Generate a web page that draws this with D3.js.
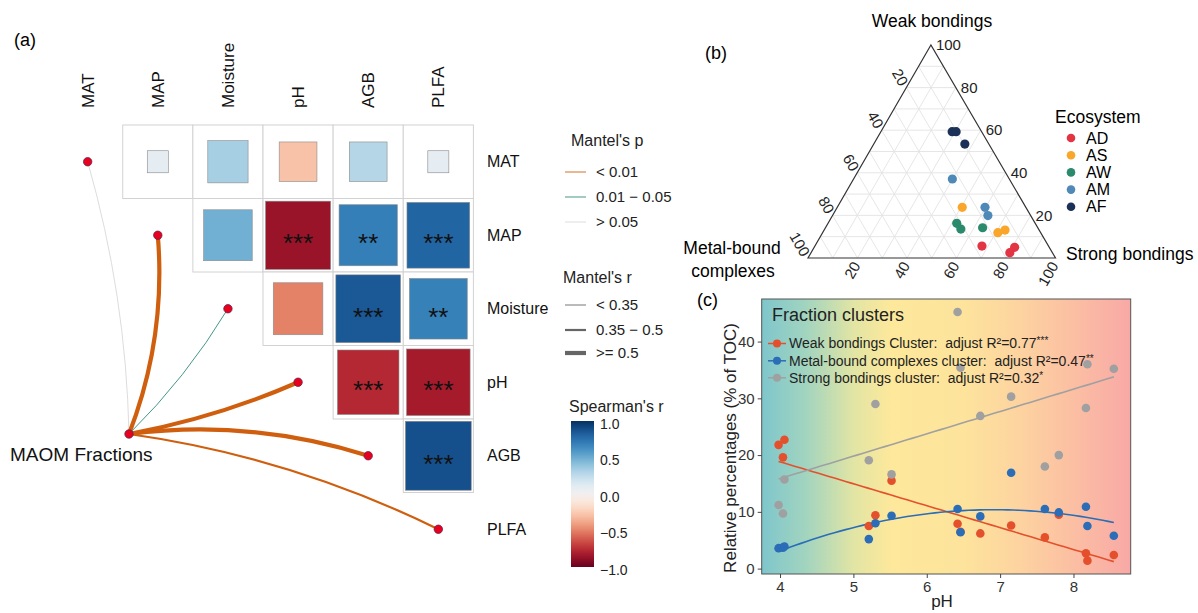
<!DOCTYPE html>
<html>
<head>
<meta charset="utf-8">
<script src="https://cdn.jsdelivr.net/npm/d3@7"></script>
<style>
  body { margin: 0; background: #fff; }
  svg { font-family: "Liberation Sans", Arial, sans-serif; }
</style>
</head>
<body>
<svg id="chart" width="1198" height="613"></svg>
<script>
// ---------- data: (a) correlation / mantel ----------
const corrVars = ['MAT', 'MAP', 'Moisture', 'pH', 'AGB', 'PLFA'];
const spearmanR = [
  [null, 0.09, 0.33, -0.29, 0.29, 0.09],
  [null, null, 0.48, -0.86, 0.69, 0.80],
  [null, null, null, -0.50, 0.85, 0.68],
  [null, null, null, null, -0.77, -0.82],
  [null, null, null, null, null, 0.88],
  [null, null, null, null, null, null]
];
const spearmanSig = [
  ['', '', '', '', '', ''],
  ['', '', '', '***', '**', '***'],
  ['', '', '', '', '***', '**'],
  ['', '', '', '', '***', '***'],
  ['', '', '', '', '', '***'],
  ['', '', '', '', '', '']
];
const mantelR = [0.15, 0.62, 0.24, 0.58, 0.60, 0.42];
const mantelP = [0.32, 0.001, 0.03, 0.001, 0.001, 0.004];
const mantelPLabels = ['< 0.01', '0.01 \u2212 0.05', '> 0.05'];
const mantelRLabels = ['< 0.35', '0.35 \u2212 0.5', '>= 0.5'];
const spearmanTicks = [1.0, 0.5, 0.0, -0.5, -1.0];

// ---------- data: (b) ternary ----------
const ecoNames = ['AD', 'AS', 'AW', 'AM', 'AF'];
const ternEco = ['AD', 'AD', 'AD', 'AS', 'AS', 'AS', 'AW', 'AW', 'AW', 'AM', 'AM', 'AM', 'AF', 'AF', 'AF'];
const ternWeak = [5.6, 5.0, 2.5, 23.8, 11.9, 13.1, 16.3, 13.6, 14.2, 37.1, 23.8, 19.9, 59.3, 59.3, 53.5];
const ternMetal = [26.9, 14.0, 17.2, 25.7, 17.3, 13.8, 31.7, 31.4, 22.3, 23.0, 16.5, 17.3, 11.9, 10.3, 9.7];
const ternStrong = [67.5, 81.0, 80.3, 50.5, 70.8, 73.1, 52.0, 55.0, 63.5, 39.9, 59.7, 62.8, 28.8, 30.4, 36.8];
const ternTicks = [20, 40, 60, 80, 100];

// ---------- data: (c) fraction clusters vs pH ----------
const phVals = [3.98, 4.04, 4.06, 5.21, 5.30, 5.52, 6.42, 6.46, 6.73, 7.15, 7.61, 7.80, 8.17, 8.19, 8.55];
const weakPct = [21.8, 19.6, 22.7, 7.5, 9.4, 15.5, 7.9, 6.5, 6.2, 7.6, 5.5, 9.5, 2.7, 1.4, 2.4];
const metalPct = [3.6, 3.7, 3.9, 5.2, 8.0, 9.3, 10.5, 6.4, 9.2, 16.9, 10.5, 9.9, 10.9, 7.5, 5.8];
const strongPct = [11.2, 9.7, 15.7, 19.1, 29.0, 16.6, 45.2, 35.4, 26.9, 30.3, 18.0, 20.0, 28.3, 36.0, 35.2];
const clusterNames = ['Weak bondings Cluster:  adjust R\u00b2=0.77', 'Metal-bound complexes cluster:  adjust R\u00b2=0.47', 'Strong bondings cluster:  adjust R\u00b2=0.32'];
const clusterStars = ['***', '**', '*'];
const phTicks = [4, 5, 6, 7, 8];
const pctTicks = [0, 10, 20, 30, 40];

// ---------- styles ----------
const edgeCurv = [0.065, 0.115, 0.063, 0.057, -0.11, -0.08];
const ecoColors = ['#e23442', '#f9a62a', '#2c8a6c', '#4e89b8', '#1c3157'];
const clusterColors = ['#e4502c', '#2b6db6', '#a0a0a0'];

const svg = d3.select('#chart');

// ================= (a) =================
const gA = svg.append('g');
gA.append('text').attr('x', 14).attr('y', 46).attr('font-size', 18).text('(a)');

const xA = d3.scaleBand().domain(corrVars).range([52.6, 473.4]);
const yA = d3.scaleBand().domain(corrVars).range([125, 566]);
const bw = xA.bandwidth(), bh = yA.bandwidth();
const rdbu = d3.scaleSequential(d3.interpolateRdBu).domain([-1, 1]);

const cells = [];
spearmanR.forEach((row, i) => row.forEach((r, j) => {
  if (r !== null) cells.push({ row: corrVars[i], col: corrVars[j], r: r, sig: spearmanSig[i][j] });
}));

gA.selectAll('rect.cell').data(cells).join('rect')
  .attr('class', 'cell')
  .attr('x', d => xA(d.col)).attr('y', d => yA(d.row))
  .attr('width', bw).attr('height', bh)
  .attr('fill', '#fff').attr('stroke', '#d2d2d2');

const sz = d => Math.sqrt(Math.abs(d.r));
gA.selectAll('rect.sq').data(cells).join('rect')
  .attr('class', 'sq')
  .attr('x', d => xA(d.col) + bw * (1 - sz(d)) / 2)
  .attr('y', d => yA(d.row) + bh * (1 - sz(d)) / 2)
  .attr('width', d => bw * sz(d)).attr('height', d => bh * sz(d))
  .attr('fill', d => rdbu(d.r)).attr('stroke', '#8a8a8a').attr('stroke-width', 0.6);

gA.selectAll('text.sig').data(cells.filter(d => d.sig)).join('text')
  .attr('x', d => xA(d.col) + bw / 2).attr('y', d => yA(d.row) + bh / 2 + 17)
  .attr('text-anchor', 'middle').attr('font-size', 26).attr('fill', '#111')
  .text(d => d.sig);

// column labels
gA.selectAll('text.col').data(corrVars).join('text')
  .attr('transform', d => `translate(${xA(d) + bw / 2 + 6},108) rotate(-90)`)
  .attr('font-size', 17).attr('fill', '#111').text(d => d);

// row labels
gA.selectAll('text.rowl').data(corrVars).join('text')
  .attr('x', 487).attr('y', d => yA(d) + bh / 2).attr('dy', '0.35em')
  .attr('font-size', 16).attr('fill', '#111').text(d => d);

// mantel edges
const pColor = d3.scaleThreshold().domain([0.01, 0.05]).range(['#cf5f0e', '#2e8b7c', '#d8d8d8']);
const rWidth = d3.scaleThreshold().domain([0.35, 0.5]).range([0.9, 2.2, 4.2]);
const src = { x: 129, y: 434 };
const nodes = corrVars.map((v, i) => ({
  v: v, x: xA(v) + bw / 2, y: yA(v) + bh / 2, r: mantelR[i], p: mantelP[i], c: edgeCurv[i]
}));
gA.selectAll('path.edge').data(nodes).join('path')
  .attr('d', d => {
    const dx = d.x - src.x, dy = d.y - src.y;
    const cx = (src.x + d.x) / 2 - d.c * dy, cy = (src.y + d.y) / 2 + d.c * dx;
    const p = d3.path();
    p.moveTo(src.x, src.y);
    p.quadraticCurveTo(cx, cy, d.x, d.y);
    return p.toString();
  })
  .attr('fill', 'none').attr('stroke', d => pColor(d.p)).attr('stroke-width', d => rWidth(d.r))
  .attr('stroke-linecap', 'round');

gA.selectAll('circle.node').data(nodes.concat([src])).join('circle')
  .attr('cx', d => d.x).attr('cy', d => d.y).attr('r', 4.2)
  .attr('fill', '#e8001f').attr('stroke', '#6a1f4a').attr('stroke-width', 0.8);

gA.append('text').attr('x', 10).attr('y', 461).attr('font-size', 19).attr('fill', '#111').text('MAOM Fractions');

// legends
const gL = svg.append('g').attr('font-size', 15).attr('fill', '#222');
gL.append('text').attr('x', 571).attr('y', 146).attr('font-size', 16).text("Mantel's p");
const pLegY = [172, 197, 222];
const pLegCol = ['#cf5f0e', '#2e8b7c', '#d8d8d8'];
mantelPLabels.forEach((t, i) => {
  gL.append('line').attr('x1', 565).attr('x2', 586).attr('y1', pLegY[i]).attr('y2', pLegY[i])
    .attr('stroke', pLegCol[i]).attr('stroke-opacity', 0.6).attr('stroke-width', 1.5);
  gL.append('text').attr('x', 596).attr('y', pLegY[i]).attr('dy', '0.35em').text(t);
});
gL.append('text').attr('x', 563).attr('y', 283).attr('font-size', 16).text("Mantel's r");
const rLegY = [305, 330, 353];
const rLegW = [0.9, 2.2, 4.2];
mantelRLabels.forEach((t, i) => {
  gL.append('line').attr('x1', 565).attr('x2', 586).attr('y1', rLegY[i]).attr('y2', rLegY[i])
    .attr('stroke', '#666').attr('stroke-width', rLegW[i]);
  gL.append('text').attr('x', 596).attr('y', rLegY[i]).attr('dy', '0.35em').text(t);
});
gL.append('text').attr('x', 569).attr('y', 412).attr('font-size', 16).text("Spearman's r");
const defs = svg.append('defs');
const cbGrad = defs.append('linearGradient').attr('id', 'cbGrad').attr('x1', 0).attr('x2', 0).attr('y1', 0).attr('y2', 1);
d3.range(0, 1.0001, 0.05).forEach(t => {
  cbGrad.append('stop').attr('offset', t).attr('stop-color', rdbu(1 - 2 * t));
});
const yCb = d3.scaleLinear().domain([1, -1]).range([421, 567]);
gL.append('rect').attr('x', 571).attr('y', yCb(1)).attr('width', 23).attr('height', yCb(-1) - yCb(1))
  .attr('fill', 'url(#cbGrad)');
gL.selectAll('text.cbt').data(spearmanTicks).join('text')
  .attr('x', 600).attr('y', d => yCb(d) + 3).attr('dy', '0.35em').attr('font-size', 14)
  .text(d => d3.format('.1f')(d).replace('-', '\u2212'));

// ================= (b) ternary =================
const gB = svg.append('g');
gB.append('text').attr('x', 705).attr('y', 59).attr('font-size', 18).text('(b)');
const apex = [930.9, 45], bl = [808, 258], br = [1055.5, 258];
const tern = (w, m, s) => {
  const t = w + m + s;
  return [(w * apex[0] + m * bl[0] + s * br[0]) / t, (w * apex[1] + m * bl[1] + s * br[1]) / t];
};
const gridVals = d3.range(10, 100, 10);
const gridSegs = [];
gridVals.forEach(v => {
  gridSegs.push([tern(v, 100 - v, 0), tern(v, 0, 100 - v)]);
  gridSegs.push([tern(100 - v, v, 0), tern(0, v, 100 - v)]);
  gridSegs.push([tern(100 - v, 0, v), tern(0, 100 - v, v)]);
});
gB.selectAll('line.grid').data(gridSegs).join('line')
  .attr('x1', d => d[0][0]).attr('y1', d => d[0][1]).attr('x2', d => d[1][0]).attr('y2', d => d[1][1])
  .attr('stroke', '#e3e3e3').attr('stroke-width', 0.9);
gB.append('path').attr('d', d3.line()([apex, bl, br, apex]) + 'Z')
  .attr('fill', 'none').attr('stroke', '#333').attr('stroke-width', 1.2);

// tick labels
gB.selectAll('text.tw').data(ternTicks).join('text')
  .attr('x', d => tern(d, 0, 100 - d)[0] + 5).attr('y', d => tern(d, 0, 100 - d)[1])
  .attr('dy', '0.35em').attr('font-size', 15).attr('fill', '#222').text(d => d);
gB.selectAll('text.tm').data(ternTicks).join('text')
  .attr('transform', d => { const p = tern(100 - d, d, 0); return `translate(${p[0] - 2},${p[1] - 3}) rotate(60)`; })
  .attr('text-anchor', 'end').attr('dy', '0.35em').attr('font-size', 15).attr('fill', '#222').text(d => d);
gB.selectAll('text.ts').data(ternTicks).join('text')
  .attr('transform', d => { const p = tern(0, 100 - d, d); return `translate(${p[0] - 1},${p[1] + 5}) rotate(-60)`; })
  .attr('text-anchor', 'end').attr('dy', '0.35em').attr('font-size', 15).attr('fill', '#222').text(d => d);

gB.append('text').attr('x', 932).attr('y', 27).attr('text-anchor', 'middle').attr('font-size', 17.5).text('Weak bondings');
gB.append('text').attr('x', 1066).attr('y', 260).attr('font-size', 17.5).text('Strong bondings');
gB.append('text').attr('x', 732).attr('y', 254).attr('text-anchor', 'middle').attr('font-size', 17.5).text('Metal-bound');
gB.append('text').attr('x', 733).attr('y', 277).attr('text-anchor', 'middle').attr('font-size', 17.5).text('complexes');

const ecoColor = d3.scaleOrdinal().domain(ecoNames).range(ecoColors);
const ternPts = ternEco.map((e, i) => ({ e: e, p: tern(ternWeak[i], ternMetal[i], ternStrong[i]) }));
gB.selectAll('circle.tp').data(ternPts).join('circle')
  .attr('cx', d => d.p[0]).attr('cy', d => d.p[1]).attr('r', 4.6)
  .attr('fill', d => ecoColor(d.e));

gB.append('text').attr('x', 1055).attr('y', 123).attr('font-size', 17.5).text('Ecosystem');
gB.selectAll('circle.el').data(ecoNames).join('circle')
  .attr('cx', 1071).attr('cy', (d, i) => 138 + i * 17.2).attr('r', 4.3).attr('fill', d => ecoColor(d));
gB.selectAll('text.el').data(ecoNames).join('text')
  .attr('x', 1086).attr('y', (d, i) => 138 + i * 17.2).attr('dy', '0.35em').attr('font-size', 16).text(d => d);

// ================= (c) =================
const gC = svg.append('g');
gC.append('text').attr('x', 697).attr('y', 306).attr('font-size', 18).text('(c)');
const xC = d3.scaleLinear().domain([3.75, 8.78]).range([761.7, 1130.7]);
const yC = d3.scaleLinear().domain([-0.95, 47.5]).range([574, 299]);

const bgGrad = defs.append('linearGradient').attr('id', 'bgGrad').attr('x1', 0).attr('x2', 1).attr('y1', 0).attr('y2', 0);
[[0, '#7ec6cc'], [0.12, '#a2d4bf'], [0.25, '#e2e5a4'], [0.35, '#fde89b'], [0.55, '#fde39c'],
 [0.7, '#fdd3a0'], [0.85, '#fbbea3'], [1, '#f8a9a6']].forEach(s => {
  bgGrad.append('stop').attr('offset', s[0]).attr('stop-color', s[1]);
});
gC.append('rect').attr('x', xC.range()[0]).attr('y', yC.range()[1])
  .attr('width', xC.range()[1] - xC.range()[0]).attr('height', yC.range()[0] - yC.range()[1])
  .attr('fill', 'url(#bgGrad)');

// regressions
const linFit = (xs, ys) => {
  const mx = d3.mean(xs), my = d3.mean(ys);
  const b = d3.sum(xs, (x, i) => (x - mx) * (ys[i] - my)) / d3.sum(xs, x => (x - mx) * (x - mx));
  return x => my + b * (x - mx);
};
const quadFit = (xs, ys) => {
  const S = k => d3.sum(xs, x => Math.pow(x, k));
  const T = k => d3.sum(xs, (x, i) => Math.pow(x, k) * ys[i]);
  const A = [[S(0), S(1), S(2), T(0)], [S(1), S(2), S(3), T(1)], [S(2), S(3), S(4), T(2)]];
  for (let c = 0; c < 3; c++) {
    for (let r = c + 1; r < 3; r++) {
      const f = A[r][c] / A[c][c];
      for (let k = c; k < 4; k++) A[r][k] -= f * A[c][k];
    }
  }
  const co = [0, 0, 0];
  for (let r = 2; r >= 0; r--) {
    let s = A[r][3];
    for (let k = r + 1; k < 3; k++) s -= A[r][k] * co[k];
    co[r] = s / A[r][r];
  }
  return x => co[0] + co[1] * x + co[2] * x * x;
};
const series = [weakPct, metalPct, strongPct];
const fits = [linFit(phVals, weakPct), quadFit(phVals, metalPct), linFit(phVals, strongPct)];
const xs = d3.range(d3.min(phVals), d3.max(phVals) + 0.001, (d3.max(phVals) - d3.min(phVals)) / 60);
const line = d3.line().x(d => xC(d[0])).y(d => yC(d[1]));
fits.forEach((f, k) => {
  gC.append('path').attr('d', line(xs.map(x => [x, f(x)])))
    .attr('fill', 'none').attr('stroke', clusterColors[k]).attr('stroke-width', 1.6);
});
series.forEach((ys, k) => {
  gC.selectAll('circle.s' + k).data(ys).join('circle')
    .attr('cx', (d, i) => xC(phVals[i])).attr('cy', d => yC(d)).attr('r', 4.3)
    .attr('fill', clusterColors[k]);
});

gC.append('rect').attr('x', xC.range()[0]).attr('y', yC.range()[1])
  .attr('width', xC.range()[1] - xC.range()[0]).attr('height', yC.range()[0] - yC.range()[1])
  .attr('fill', 'none').attr('stroke', '#555').attr('stroke-width', 1);

const axX = gC.append('g').attr('transform', `translate(0,${yC.range()[0]})`)
  .call(d3.axisBottom(xC).tickValues(phTicks).tickSize(4).tickPadding(3).tickFormat(d3.format('d')));
const axY = gC.append('g').attr('transform', `translate(${xC.range()[0]},0)`)
  .call(d3.axisLeft(yC).tickValues(pctTicks).tickSize(4).tickPadding(3).tickFormat(d3.format('d')));
[axX, axY].forEach(a => {
  a.select('.domain').remove();
  a.selectAll('line').attr('stroke', '#444');
  a.selectAll('text').attr('font-size', 15).attr('fill', '#333')
    .attr('font-family', '"Liberation Sans", Arial, sans-serif');
});

gC.append('text').attr('transform', 'translate(736,448) rotate(-90)').attr('text-anchor', 'middle')
  .attr('font-size', 17).attr('fill', '#222').text('Relative percentages (% of TOC)');
gC.append('text').attr('x', 942).attr('y', 607).attr('text-anchor', 'middle').attr('font-size', 17).attr('fill', '#222').text('pH');

// legend in (c)
gC.append('text').attr('x', 772).attr('y', 321).attr('font-size', 18).attr('fill', '#222').text('Fraction clusters');
const legY = [343.5, 360.8, 377.8];
clusterNames.forEach((t, k) => {
  gC.append('line').attr('x1', 768).attr('x2', 786).attr('y1', legY[k]).attr('y2', legY[k])
    .attr('stroke', clusterColors[k]).attr('stroke-width', 1.5);
  gC.append('circle').attr('cx', 777).attr('cy', legY[k]).attr('r', 4).attr('fill', clusterColors[k]);
  const tx = gC.append('text').attr('x', 789).attr('y', legY[k]).attr('dy', '0.35em')
    .attr('font-size', 14).attr('fill', '#222').style('white-space', 'pre').text(t);
  tx.append('tspan').attr('font-size', 10).attr('dy', -4).text(clusterStars[k]);
});
</script>
</body>
</html>
